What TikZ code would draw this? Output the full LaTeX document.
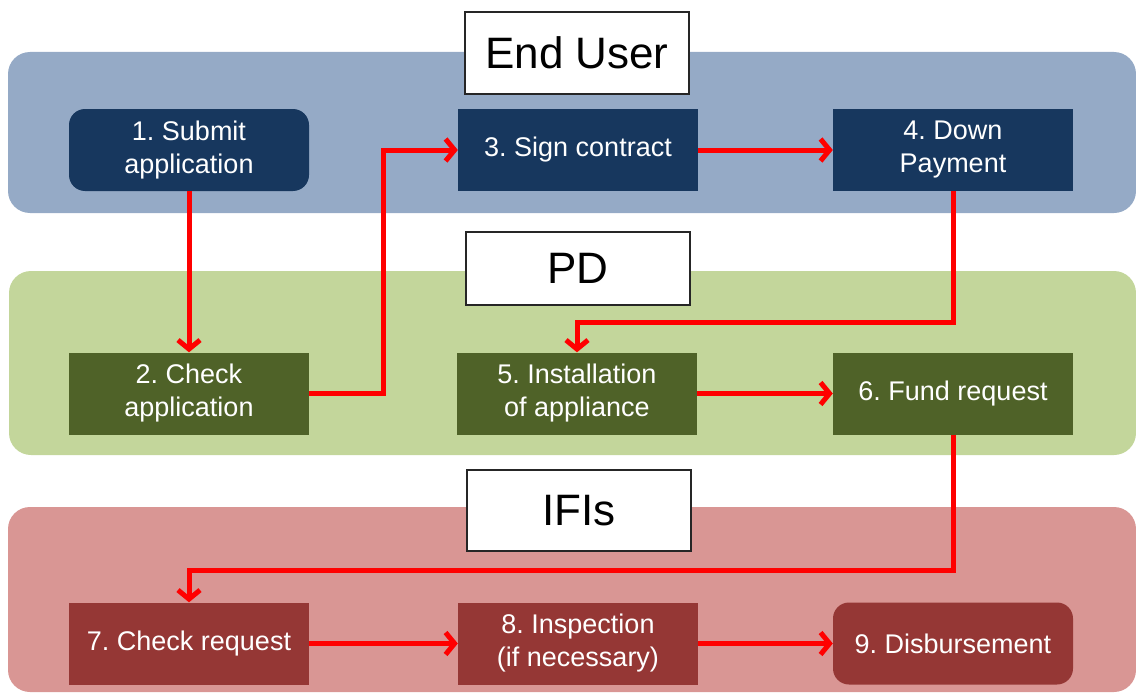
\documentclass[tikz,border=0pt]{standalone}
\usepackage{fontspec}
\setmainfont{Liberation Sans}
\usetikzlibrary{arrows.meta,positioning}
\definecolor{laneuser}{RGB}{149,170,198}
\definecolor{lanepd}{RGB}{195,214,155}
\definecolor{laneifi}{RGB}{217,150,148}
\definecolor{stepuser}{RGB}{23,55,94}
\definecolor{steppd}{RGB}{79,98,40}
\definecolor{stepifi}{RGB}{149,55,53}
\definecolor{flowred}{RGB}{255,0,0}
\frenchspacing

\begin{document}
\begin{tikzpicture}[x=1pt, y=-1pt,
  lanetitle/.style={draw=black!85, line width=1.2pt, fill=white,
    minimum width=224pt, inner sep=0pt, font=\fontsize{44}{50}\selectfont},
  stepbox/.style={minimum width=240pt, minimum height=82pt, inner sep=2pt,
    align=center, text=white, font=\fontsize{27}{33}\selectfont},
  flow/.style={draw=flowred, line width=5pt,
    -{Straight Barb[length=9pt, width=22pt]}}]
\useasboundingbox (0,0) rectangle (1136,693);
% swim lanes
\fill[laneuser, rounded corners=22pt] (8,52) rectangle (1136,213);
\fill[lanepd, rounded corners=22pt] (9,271) rectangle (1136,455);
\fill[laneifi, rounded corners=22pt] (8,507) rectangle (1136,692);
% lane titles
\node[lanetitle, minimum height=82pt] (tuser) at (577,53) {End User};
\node[lanetitle, minimum height=73pt] (tpd) at (578,268.5) {PD};
\node[lanetitle, minimum height=81pt] (tifi) at (579,510.5) {IFIs};
% end user
\node[stepbox, fill=stepuser, rounded corners=16pt] (s1) at (189,150)
  {1. Submit\\application};
\node[stepbox, fill=stepuser] (s3) at (578,150) {3. Sign contract};
\node[stepbox, fill=stepuser] (s4) at (953,150) {4. Down\\Payment};
% PD
\node[stepbox, fill=steppd] (s2) at (189,393.5) {2. Check\\application};
\node[stepbox, fill=steppd] (s5) at (577,393.5)
  {5. Installation\\of appliance};
\node[stepbox, fill=steppd] (s6) at (953,393.5) {6. Fund request};
% IFIs
\node[stepbox, fill=stepifi] (s7) at (189,643.5) {7. Check request};
\node[stepbox, fill=stepifi] (s8) at (578,643.5)
  {8. Inspection\\(if necessary)};
\node[stepbox, fill=stepifi, rounded corners=16pt] (s9) at (953,643.5)
  {9. Disbursement};
% flow
\foreach \a/\b in {s1/s2, s3/s4, s5/s6, s7/s8, s8/s9}
  \draw[flow] (\a) -- (\b);
\draw[flow] (s2.east) -- ++(74,0) |- (s3.west);
\draw[flow] (s4.south) -- ++(0,131) -| (s5.north);
\draw[flow] (s6.south) -- ++(0,136) -| (s7.north);
\end{tikzpicture}
\end{document}
